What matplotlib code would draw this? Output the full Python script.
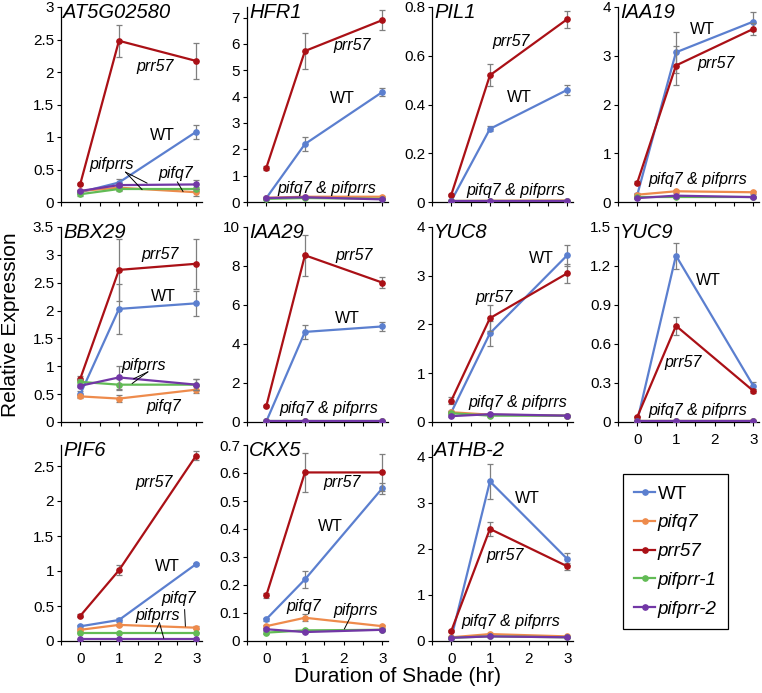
import numpy as np
import matplotlib
matplotlib.use('Agg')
import matplotlib.pyplot as plt
from matplotlib.lines import Line2D

plt.rcParams['font.family'] = ['Liberation Sans', 'DejaVu Sans']

# Tiempos de sombra (hr)
tiempos = [0, 1, 3]

genes = ['AT5G02580', 'HFR1', 'PIL1', 'IAA19',
         'BBX29', 'IAA29', 'YUC8', 'YUC9',
         'PIF6', 'CKX5', 'ATHB-2']

# Medias por genotipo (una fila por gen, en el orden de 'genes')
wt_mean = [[0.15, 0.30, 1.08], [0.15, 2.20, 4.17], [0.005, 0.30, 0.46], [0.15, 3.07, 3.70],
           [0.50, 2.03, 2.13], [0.03, 4.62, 4.90], [0.20, 1.82, 3.42], [0.01, 1.28, 0.28],
           [0.21, 0.30, 1.10], [0.078, 0.22, 0.545], [0.07, 3.46, 1.78]]
wt_err = [[0.02, 0.05, 0.11], [0.03, 0.25, 0.15], [0.002, 0.01, 0.022], [0.03, 0.42, 0.20],
          [0.05, 0.45, 0.22], [0.01, 0.35, 0.22], [0.02, 0.26, 0.22], [0.005, 0.10, 0.03],
          [0.02, 0.03, 0.02], [0.005, 0.03, 0.02], [0.01, 0.38, 0.13]]

pifq7_mean = [[0.17, 0.22, 0.15], [0.16, 0.20, 0.20], [0.004, 0.005, 0.006], [0.15, 0.22, 0.20],
              [0.46, 0.42, 0.58], [0.03, 0.04, 0.04], [0.20, 0.15, 0.13], [0.005, 0.005, 0.005],
              [0.16, 0.23, 0.19], [0.053, 0.083, 0.053], [0.08, 0.15, 0.10]]
pifq7_err = [[0.02, 0.03, 0.05], [0.02, 0.02, 0.03], [0.001, 0.001, 0.001], [0.02, 0.03, 0.03],
             [0.03, 0.07, 0.06], [0.005, 0.005, 0.005], [0.02, 0.02, 0.02], [0.001, 0.001, 0.001],
             [0.01, 0.02, 0.02], [0.005, 0.012, 0.005], [0.01, 0.02, 0.01]]

prr57_mean = [[0.28, 2.48, 2.17], [1.30, 5.73, 6.90], [0.03, 0.52, 0.75], [0.40, 2.80, 3.55],
              [0.78, 2.73, 2.84], [0.82, 8.55, 7.15], [0.44, 2.13, 3.05], [0.04, 0.74, 0.24],
              [0.36, 1.01, 2.65], [0.163, 0.602, 0.602], [0.22, 2.43, 1.62]]
prr57_err = [[0.02, 0.25, 0.27], [0.08, 0.67, 0.38], [0.004, 0.045, 0.035], [0.03, 0.40, 0.12],
             [0.05, 0.55, 0.45], [0.05, 1.05, 0.30], [0.08, 0.26, 0.20], [0.005, 0.07, 0.015],
             [0.02, 0.07, 0.07], [0.01, 0.07, 0.065], [0.02, 0.16, 0.08]]

pifprr1_mean = [[0.12, 0.20, 0.20], [0.12, 0.15, 0.12], [0.003, 0.003, 0.003], [0.10, 0.10, 0.10],
                [0.72, 0.67, 0.67], [0.03, 0.03, 0.03], [0.18, 0.13, 0.13], [0.004, 0.004, 0.004],
                [0.12, 0.12, 0.12], [0.030, 0.038, 0.040], [0.07, 0.10, 0.08]]
pifprr1_err = [[0.02, 0.03, 0.03], [0.01, 0.02, 0.01], [0.001, 0.001, 0.001], [0.01, 0.02, 0.01],
               [0.05, 0.10, 0.10], [0.005, 0.005, 0.005], [0.02, 0.02, 0.01], [0.001, 0.001, 0.001],
               [0.01, 0.01, 0.01], [0.004, 0.004, 0.004], [0.01, 0.01, 0.01]]

pifprr2_mean = [[0.17, 0.26, 0.27], [0.15, 0.18, 0.10], [0.003, 0.003, 0.003], [0.08, 0.13, 0.10],
                [0.65, 0.80, 0.67], [0.03, 0.03, 0.03], [0.12, 0.16, 0.13], [0.004, 0.004, 0.004],
                [0.03, 0.03, 0.03], [0.042, 0.032, 0.040], [0.07, 0.10, 0.08]]
pifprr2_err = [[0.02, 0.03, 0.07], [0.01, 0.02, 0.01], [0.001, 0.001, 0.001], [0.01, 0.02, 0.01],
               [0.03, 0.20, 0.10], [0.005, 0.005, 0.005], [0.02, 0.02, 0.01], [0.001, 0.001, 0.001],
               [0.005, 0.005, 0.005], [0.004, 0.004, 0.004], [0.01, 0.01, 0.01]]

# Escala del eje y de cada panel: maximo, paso y ultimo tick
y_max = [3, 7.4, 0.8, 4, 3.5, 10, 4, 1.5, 2.8, 0.7, 4.25]
y_paso = [0.5, 1, 0.2, 1, 0.5, 2, 1, 0.3, 0.5, 0.1, 1]
y_ult = [3, 7, 0.8, 4, 3.5, 10, 4, 1.5, 2.5, 0.7, 4]

# Etiquetas dentro de cada panel: (texto, x, y)
etiquetas = [
    [('prr57', 1.93, 2.08), ('WT', 2.13, 1.03), ('pifprrs', 0.82, 0.57), ('pifq7', 2.46, 0.44)],
    [('prr57', 2.22, 5.93), ('WT', 1.96, 3.94), ('pifq7 & pifprrs', 1.57, 0.53)],
    [('prr57', 1.55, 0.66), ('WT', 1.77, 0.43), ('pifq7 & pifprrs', 1.68, 0.048)],
    [('WT', 1.68, 3.53), ('prr57', 2.04, 2.85), ('pifq7 & pifprrs', 1.57, 0.46)],
    [('prr57', 2.07, 3.0), ('WT', 2.14, 2.26), ('pifprrs', 1.64, 1.02), ('pifq7', 2.16, 0.27)],
    [('prr57', 2.26, 8.56), ('WT', 2.09, 5.3), ('pifq7 & pifprrs', 1.61, 0.7)],
    [('WT', 2.33, 3.35), ('prr57', 1.12, 2.56), ('pifq7 & pifprrs', 1.72, 0.41)],
    [('WT', 1.83, 1.09), ('prr57', 1.18, 0.46), ('pifq7 & pifprrs', 1.57, 0.09)],
    [('prr57', 1.9, 2.27), ('WT', 2.25, 1.06), ('pifq7', 2.55, 0.61), ('pifprrs', 1.99, 0.36)],
    [('prr57', 1.96, 0.565), ('WT', 1.66, 0.41), ('pifq7', 0.97, 0.125), ('pifprrs', 2.31, 0.108)],
    [('WT', 1.98, 3.08), ('prr57', 1.38, 1.85), ('pifq7 & pifprrs', 1.55, 0.43)],
]

# Lineas guia de las etiquetas: (panel, x0, y0, x1, y1)
guias = [
    (0, 1.17, 0.46, 1.73, 0.29), (0, 1.17, 0.46, 1.60, 0.19), (0, 2.51, 0.31, 2.66, 0.16),
    (4, 1.75, 0.90, 1.38, 0.775), (4, 1.75, 0.90, 1.34, 0.69),
    (8, 2.70, 0.45, 2.72, 0.21), (8, 2.05, 0.26, 1.94, 0.13), (8, 2.05, 0.26, 2.16, 0.04),
    (9, 2.16, 0.081, 2.02, 0.043),
]

nombres = ['WT', 'pifq7', 'prr57', 'pifprr-1', 'pifprr-2']
colores = ['#5B7FCF', '#EE8B4C', '#AA1016', '#62BB55', '#7237A6']
medias = [wt_mean, pifq7_mean, prr57_mean, pifprr1_mean, pifprr2_mean]
errores = [wt_err, pifq7_err, prr57_err, pifprr1_err, pifprr2_err]

W, H = 762, 693
fig = plt.figure(figsize=(W / 100, H / 100), dpi=100)

izq = [61, 247, 432, 618]
arriba = [7, 227, 445]
abajo = [202, 422, 641]
ancho = 141

con_xlabels = {7, 8, 9, 10}

for i, gen in enumerate(genes):
    fila, col = divmod(i, 4)
    l = izq[col]
    rect = [l / W, 1 - abajo[fila] / H, ancho / W, (abajo[fila] - arriba[fila]) / H]
    ax = fig.add_axes(rect)

    for k in range(len(nombres)):
        ax.errorbar(tiempos, medias[k][i], yerr=errores[k][i], color=colores[k],
                    ecolor='#7F7F7F', elinewidth=0.9, capsize=2, capthick=0.9,
                    lw=1.6, marker='o', markersize=3.8, zorder=2 + k)

    ax.set_xlim(-0.5, 3.15)
    ax.set_ylim(0, y_max[i])
    xt = np.arange(-0.5, 3.01, 0.5)
    ax.set_xticks(xt)
    if i in con_xlabels:
        ax.set_xticklabels([str(int(v)) if (v >= 0 and float(v).is_integer()) else '' for v in xt])
    else:
        ax.set_xticklabels([])
    yt = np.arange(0, y_ult[i] + 1e-9, y_paso[i])
    ax.set_yticks(yt)
    ax.set_yticklabels([f'{round(v, 2):g}' for v in yt])

    for s in ['top', 'right']:
        ax.spines[s].set_visible(False)
    for s in ['left', 'bottom']:
        ax.spines[s].set_linewidth(0.9)
    ax.tick_params(axis='both', direction='out', length=3, width=0.8, labelsize=11)
    ax.tick_params(axis='y', pad=2)
    ax.tick_params(axis='x', pad=5)

    ax.text(0.015, 1.02, gen, transform=ax.transAxes, ha='left', va='top',
            fontsize=14.5, fontstyle='italic')

    for texto, tx, ty in etiquetas[i]:
        estilo = 'normal' if texto == 'WT' else 'italic'
        ax.text(tx, ty, texto, ha='center', va='center', fontsize=11.5,
                fontstyle=estilo, zorder=10)

    for p, x0, y0, x1, y1 in guias:
        if p == i:
            ax.annotate('', xy=(x1, y1), xytext=(x0, y0),
                        arrowprops=dict(arrowstyle='-', color='black', lw=0.7,
                                        shrinkA=0, shrinkB=0), zorder=10)

# Leyenda
manejadores = [Line2D([], [], color=c, lw=1.6, marker='o', markersize=3.8) for c in colores]
leg = fig.legend(manejadores, nombres, loc='center',
                 bbox_to_anchor=(675.5 / W, 1 - 551.5 / H),
                 prop={'size': 13.5, 'style': 'italic'}, frameon=True, fancybox=False,
                 edgecolor='black', framealpha=1, handlelength=1.1, handletextpad=0.15,
                 labelspacing=0.62, borderpad=0.6, numpoints=1)
leg.get_frame().set_linewidth(0.9)
leg.get_texts()[0].set_fontstyle('normal')

fig.text(11 / W, 1 - 325 / H, 'Relative Expression', rotation=90, ha='center', va='center',
         fontsize=15)
fig.text(397 / W, 1 - 676 / H, 'Duration of Shade (hr)', ha='center', va='center', fontsize=15)

fig.savefig('out.png', dpi=100)
